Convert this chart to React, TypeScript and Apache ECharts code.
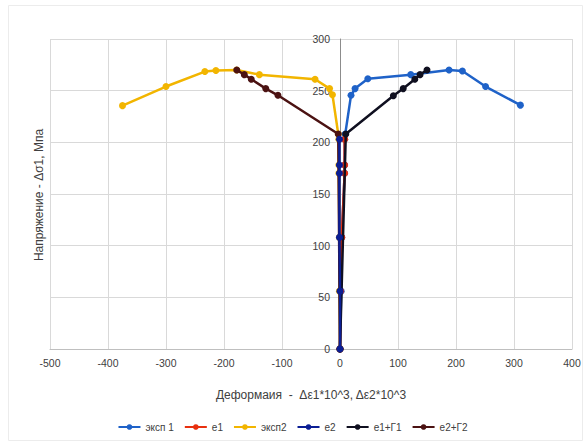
import React, { useEffect, useRef } from "react";
import * as echarts from "echarts";

const xTicks = [-500, -400, -300, -200, -100, 0, 100, 200, 300, 400];
const yTicks = [0, 50, 100, 150, 200, 250, 300];

const exp1X = [0, 2, 3, 8, 8, 8, 9, 19, 26, 48, 122, 188, 211, 251, 311];
const exp1Y = [0, 56, 108, 170, 178, 203, 208, 245.5, 252, 261.5, 265.5, 270, 269, 254, 236];

const e1X = [0, 1, 3, 8, 8, 8];
const e1Y = [0, 56, 108, 170, 178, 203];

const exp2X = [0, -1, -1, -2, -2, -2, -3, -13, -18, -43, -139, -178, -214, -233, -300, -375];
const exp2Y = [0, 56, 108, 170, 178, 203, 208, 246, 252, 261, 265.5, 270, 269.5, 268.5, 254, 235.5];

const e2X = [0, 0, -1, -1, -1, -1];
const e2Y = [0, 56, 108, 170, 178, 203];

const e1g1X = [0, 10, 92, 109, 129, 138, 150];
const e1g1Y = [0, 208, 245, 252, 261, 265.5, 270];

const e2g2X = [0, -3, -107, -128, -153, -165, -178];
const e2g2Y = [0, 208, 245.5, 252, 261, 265.5, 270];

const seriesNames = ["эксп 1", "e1", "эксп2", "e2", "e1+Г1", "e2+Г2"];
const seriesColors = ["#1F62C8", "#E8300F", "#F2B500", "#0B1E94", "#101020", "#4B1212"];

const zip = (xs: number[], ys: number[]) => xs.map((x, i) => [x, ys[i]]);

export default function App() {
  const ref = useRef<HTMLDivElement>(null);
  useEffect(() => {
    if (!ref.current) return;
    const chart = echarts.init(ref.current, null, { renderer: "svg" });
    const font = "Liberation Sans, Arial, sans-serif";
    const datasets = [
      zip(exp1X, exp1Y),
      zip(e1X, e1Y),
      zip(exp2X, exp2Y),
      zip(e2X, e2Y),
      zip(e1g1X, e1g1Y),
      zip(e2g2X, e2g2Y),
    ];
    const zs = [2, 3, 2, 5, 4, 4];
    const gridLeft = 50;
    const gridRight = 13;
    const plotW = 585 - gridLeft - gridRight;
    const xMin = xTicks[0];
    const xMax = xTicks[xTicks.length - 1];
    const zeroOffset = (plotW * (0 - xMin)) / (xMax - xMin);
    chart.setOption({
      animation: false,
      backgroundColor: "#ffffff",
      grid: { left: gridLeft, right: gridRight, top: 39, bottom: 94, containLabel: false },
      xAxis: {
        type: "value",
        min: xMin,
        max: xMax,
        interval: 100,
        name: "Деформаия  -  Δε1*10^3, Δε2*10^3",
        nameLocation: "middle",
        nameGap: 40,
        nameTextStyle: { color: "#404040", fontSize: 12, fontFamily: font },
        axisLine: { show: true, onZero: false, lineStyle: { color: "#bfbfbf", width: 1 } },
        axisTick: { show: false },
        axisLabel: { color: "#404040", fontSize: 10.5, fontFamily: font, margin: 8 },
        splitLine: { show: true, lineStyle: { color: "#d9d9d9", width: 1 } },
      },
      yAxis: {
        type: "value",
        position: "left",
        offset: -zeroOffset,
        min: yTicks[0],
        max: yTicks[yTicks.length - 1],
        interval: 50,
        axisLine: { show: true, onZero: false, lineStyle: { color: "#8c8c8c", width: 1 } },
        axisTick: { show: false },
        axisLabel: { color: "#404040", fontSize: 10.5, fontFamily: font, margin: 10 },
        splitLine: { show: true, lineStyle: { color: "#d9d9d9", width: 1 } },
      },
      legend: {
        bottom: 6,
        left: "center",
        itemWidth: 22,
        itemHeight: 7,
        itemGap: 10,
        textStyle: { color: "#404040", fontSize: 10, fontFamily: font },
        data: seriesNames,
      },
      graphic: [
        {
          type: "text",
          rotation: Math.PI / 2,
          x: 39,
          y: 195,
          style: {
            text: "Напряжение - Δσ1, Мпа",
            fill: "#404040",
            fontSize: 12,
            fontFamily: font,
            align: "center",
            verticalAlign: "middle",
          },
        },
        {
          type: "rect",
          shape: { x: 8.5, y: 5.5, width: 574, height: 435 },
          style: { fill: "none", stroke: "#ececec", lineWidth: 1 },
          silent: true,
        },
      ],
      series: datasets.map((d, i) => ({
        name: seriesNames[i],
        type: "line",
        data: d,
        z: zs[i],
        symbol: "circle",
        symbolSize: 7,
        showSymbol: true,
        color: seriesColors[i],
        itemStyle: { color: seriesColors[i] },
        lineStyle: { color: seriesColors[i], width: 2.5 },
      })),
    });
    return () => chart.dispose();
  }, []);
  return (
    <div
      ref={ref}
      style={{ position: "fixed", left: 0, top: 0, width: 585, height: 443 }}
    />
  );
}
